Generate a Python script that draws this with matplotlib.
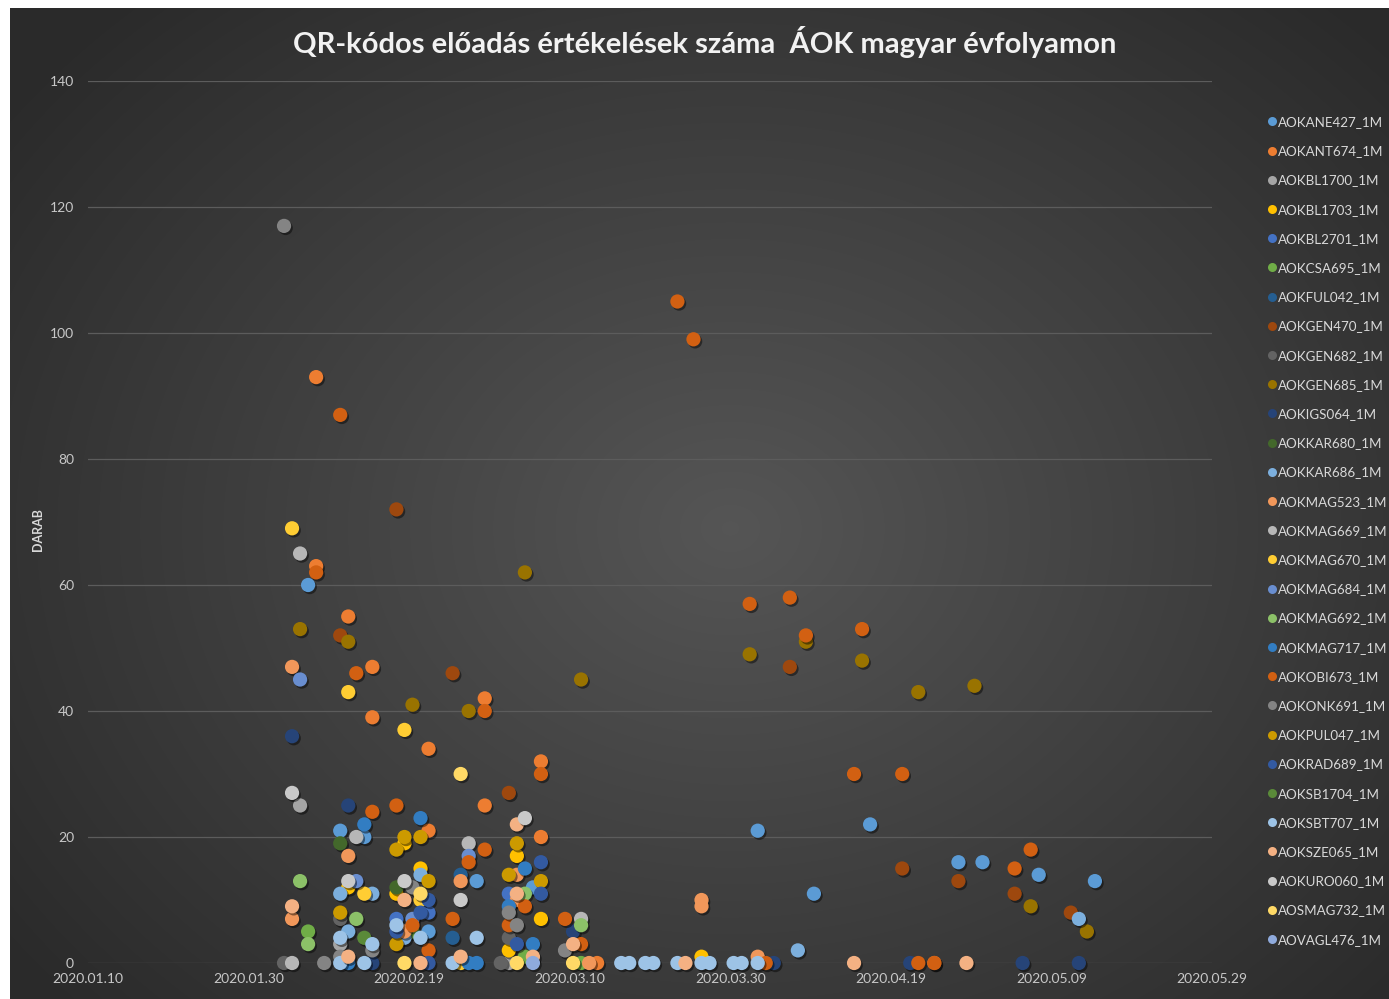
import numpy as np
import matplotlib
matplotlib.use("Agg")
import matplotlib.pyplot as plt
import matplotlib.dates as mdates
import matplotlib.patheffects as pe
from matplotlib.lines import Line2D
import datetime as dt

plt.rcParams['font.family'] = ['Lato', 'DejaVu Sans']

# ---- data: per series, dates (MM-DD, 2020) and counts ----
ANE427_d = ['02-06', '02-10', '02-13', '02-21', '02-27', '03-05', '04-02', '04-09', '04-16', '04-27', '04-30', '05-07', '05-14']
ANE427_v = [60, 21, 20, 5, 13, 12, 21, 11, 22, 16, 16, 14, 13]
ANT674_d = ['02-07', '02-07', '02-11', '02-14', '02-14', '02-21', '02-21', '02-28', '02-28', '03-06', '03-06', '03-13', '04-24']
ANT674_v = [93, 63, 55, 47, 39, 34, 21, 42, 25, 32, 20, 0, 0]
BL1700_d = ['02-05', '02-10', '03-02']
BL1700_v = [25, 3, 0]
BL1703_d = ['02-11', '02-17', '02-18', '02-20', '03-02', '03-03', '03-06', '03-26']
BL1703_v = [12, 11, 19, 15, 2, 17, 7, 1]
BL2701_d = ['02-17', '02-21', '03-02']
BL2701_v = [7, 8, 11]
CSA695_d = ['02-06', '02-19', '03-04', '03-11']
CSA695_v = [5, 5, 1, 0]
FUL042_d = ['02-24', '02-25']
FUL042_v = [4, 14]
GEN470_d = ['02-10', '02-17', '02-24', '03-02', '04-06', '04-20', '04-27', '05-04', '05-11']
GEN470_v = [52, 72, 46, 27, 47, 15, 13, 11, 8]
GEN682_d = ['02-03', '02-10', '03-01', '03-02']
GEN682_v = [0, 7, 0, 4]
GEN685_d = ['02-05', '02-11', '02-19', '02-26', '03-04', '03-11', '04-01', '04-08', '04-15', '04-22', '04-29', '05-06', '05-13']
GEN685_v = [53, 51, 41, 40, 62, 45, 49, 51, 48, 43, 44, 9, 5]
IGS064_d = ['02-04', '02-11', '02-14', '03-10', '04-04', '04-21', '05-05', '05-12']
IGS064_v = [36, 25, 0, 5, 0, 0, 0, 0]
KAR680_d = ['02-10', '02-17']
KAR680_v = [19, 12]
KAR686_d = ['02-10', '02-11', '02-14', '02-18', '02-20', '04-07', '05-12']
KAR686_v = [11, 5, 11, 4, 14, 2, 7]
MAG523_d = ['02-04', '02-04', '02-11', '02-18', '02-25', '03-03', '03-03', '03-12', '03-26', '03-26', '04-02']
MAG523_v = [47, 7, 17, 5, 13, 14, 10, 0, 10, 9, 1]
MAG669_d = ['02-04', '02-05', '02-12', '02-26', '03-11']
MAG669_v = [0, 65, 20, 19, 7]
MAG670_d = ['02-04', '02-11', '02-13', '02-18', '02-20', '02-25']
MAG670_v = [69, 43, 11, 37, 10, 0]
MAG684_d = ['02-05', '02-12', '02-19', '02-26']
MAG684_v = [45, 13, 7, 17]
MAG692_d = ['02-05', '02-06', '02-12', '03-04', '03-11']
MAG692_v = [13, 3, 7, 11, 6]
MAG717_d = ['02-11', '02-13', '02-20', '02-26', '02-27', '03-02', '03-04', '03-05']
MAG717_v = [0, 22, 23, 0, 0, 9, 15, 3]
OBI673_d = ['02-07', '02-10', '02-12', '02-14', '02-17', '02-19', '02-21', '02-24', '02-26', '02-28', '02-28',
            '03-02', '03-04', '03-06', '03-09', '03-11', '03-23', '03-25', '04-01', '04-03', '04-06', '04-08',
            '04-14', '04-15', '04-20', '04-22', '04-24', '05-04', '05-06']
OBI673_v = [62, 87, 46, 24, 25, 6, 2, 7, 16, 40, 18,
            6, 9, 30, 7, 3, 105, 99, 57, 0, 58, 52,
            30, 53, 30, 0, 0, 15, 18]
ONK691_d = ['02-03', '02-08', '02-10', '02-14', '02-19', '03-02', '03-03', '03-09']
ONK691_v = [117, 0, 1, 2, 12, 8, 6, 2]
PUL047_d = ['02-10', '02-17', '02-17', '02-18', '02-20', '02-21', '03-02', '03-03', '03-06']
PUL047_v = [8, 18, 3, 20, 20, 13, 14, 19, 13]
RAD689_d = ['02-17', '02-20', '02-21', '02-21', '03-03', '03-06', '03-06']
RAD689_v = [5, 8, 10, 0, 3, 16, 11]
SB1704_d = ['02-13']
SB1704_v = [4]
SBT707_d = ['02-10', '02-10', '02-13', '02-14', '02-17', '02-20', '02-24', '02-27', '03-16', '03-17', '03-19',
            '03-20', '03-23', '03-26', '03-27', '03-30', '03-31', '04-02']
SBT707_v = [4, 0, 0, 3, 6, 4, 0, 4, 0, 0, 0, 0, 0, 0, 0, 0, 0, 0]
SZE065_d = ['02-04', '02-11', '02-18', '02-20', '02-25', '03-03', '03-03', '03-05', '03-10', '03-24', '04-14', '04-28']
SZE065_v = [9, 1, 10, 0, 1, 22, 11, 1, 3, 0, 0, 0]
URO060_d = ['02-04', '02-11', '02-18', '02-25', '03-04']
URO060_v = [27, 13, 13, 10, 23]
SMAG732_d = ['02-18', '02-20', '02-25', '03-03', '03-10']
SMAG732_v = [0, 11, 30, 0, 0]
VAGL476_d = ['03-05']
VAGL476_v = [0]

names = ['AOKANE427_1M', 'AOKANT674_1M', 'AOKBL1700_1M', 'AOKBL1703_1M', 'AOKBL2701_1M', 'AOKCSA695_1M',
         'AOKFUL042_1M', 'AOKGEN470_1M', 'AOKGEN682_1M', 'AOKGEN685_1M', 'AOKIGS064_1M', 'AOKKAR680_1M',
         'AOKKAR686_1M', 'AOKMAG523_1M', 'AOKMAG669_1M', 'AOKMAG670_1M', 'AOKMAG684_1M', 'AOKMAG692_1M',
         'AOKMAG717_1M', 'AOKOBI673_1M', 'AOKONK691_1M', 'AOKPUL047_1M', 'AOKRAD689_1M', 'AOKSB1704_1M',
         'AOKSBT707_1M', 'AOKSZE065_1M', 'AOKURO060_1M', 'AOSMAG732_1M', 'AOVAGL476_1M']
dates = [ANE427_d, ANT674_d, BL1700_d, BL1703_d, BL2701_d, CSA695_d, FUL042_d, GEN470_d, GEN682_d,
         GEN685_d, IGS064_d, KAR680_d, KAR686_d, MAG523_d, MAG669_d, MAG670_d, MAG684_d, MAG692_d,
         MAG717_d, OBI673_d, ONK691_d, PUL047_d, RAD689_d, SB1704_d, SBT707_d, SZE065_d, URO060_d,
         SMAG732_d, VAGL476_d]
values = [ANE427_v, ANT674_v, BL1700_v, BL1703_v, BL2701_v, CSA695_v, FUL042_v, GEN470_v, GEN682_v,
          GEN685_v, IGS064_v, KAR680_v, KAR686_v, MAG523_v, MAG669_v, MAG670_v, MAG684_v, MAG692_v,
          MAG717_v, OBI673_v, ONK691_v, PUL047_v, RAD689_v, SB1704_v, SBT707_v, SZE065_v, URO060_v,
          SMAG732_v, VAGL476_v]
colors = ['#5B9BD5', '#ED7D31', '#A5A5A5', '#FFC000', '#4472C4', '#70AD47', '#255E91', '#9E480E',
          '#636363', '#997300', '#264478', '#43682B', '#7CAFDD', '#F1975A', '#B7B7B7', '#FFCD33',
          '#698ED0', '#8CC168', '#327DC2', '#D26012', '#848484', '#CC9A00', '#335AA1', '#5A8A39',
          '#9DC3E6', '#F4B183', '#C9C9C9', '#FFD966', '#8FAADC']

W, H = 1389, 999
fig = plt.figure(figsize=(W / 100, H / 100), dpi=100, facecolor='white')

# dark radial-gradient panel behind everything
bg = fig.add_axes([10 / W, 0, 1 - 10 / W, 1 - 8 / H], zorder=-5)
yy, xx = np.mgrid[0:991, 0:1379]
r = np.sqrt(((xx - 720) / 900.0) ** 2 + ((yy - 520) / 720.0) ** 2)
shade = 0.335 - 0.17 * np.clip(r, 0, 1)
bg.imshow(np.dstack([shade] * 3), aspect='auto', interpolation='bilinear')
bg.axis('off')

ax = fig.add_axes([88 / W, 36 / H, (1212 - 88) / W, (963 - 81) / H])
ax.patch.set_alpha(0)

shadow = [pe.SimplePatchShadow(offset=(1.2, -1.5), shadow_rgbFace='black', alpha=0.45), pe.Normal()]
for name, d, v, c in zip(names, dates, values, colors):
    # lectures are logged with a morning time stamp
    xd = [dt.datetime.strptime('2020-' + s + ' 10:00', '%Y-%m-%d %H:%M') for s in d]
    sc = ax.scatter(xd, v, s=105, color=c, edgecolors='none', zorder=3, label=name, clip_on=False)
    sc.set_path_effects(shadow)

ax.set_xlim(dt.datetime(2020, 1, 10), dt.datetime(2020, 5, 29))
ax.set_ylim(0, 140)
ax.set_yticks(range(0, 141, 20))
ticks = [dt.datetime(2020, 1, 10) + dt.timedelta(days=20 * i) for i in range(8)]
ax.set_xticks(ticks)
ax.xaxis.set_major_formatter(mdates.DateFormatter('%Y.%m.%d'))
ax.grid(axis='y', color='#5c5c5c', linewidth=0.9)
ax.set_axisbelow(True)
for sp in ax.spines.values():
    sp.set_visible(False)
ax.tick_params(axis='both', length=0, colors='#c8c8c8', labelsize=10)
ax.tick_params(axis='y', pad=10)
ax.tick_params(axis='x', pad=7)

fig.text(0.507, 1 - 42 / H, 'QR-kódos előadás értékelések száma  ÁOK magyar évfolyamon',
         ha='center', va='center', fontsize=21, fontweight='bold', color='#f2f2f2')
fig.text(38 / W, 1 - 530 / H, 'DARAB', rotation=90, ha='center', va='center',
         fontsize=9, fontweight='bold', color='#d9d9d9')

handles = [Line2D([], [], marker='o', linestyle='none', markersize=6.5, markerfacecolor=c,
                  markeredgecolor='none') for c in colors]
fig.legend(handles, names, loc='upper left', bbox_to_anchor=(1269 / W, 1 - 116 / H), frameon=False,
           fontsize=9.6, labelcolor='#d9d9d9', handlelength=0.5, handletextpad=0.2, labelspacing=1.29,
           borderpad=0, borderaxespad=0)

fig.savefig('out.png', dpi=100, facecolor='white')
